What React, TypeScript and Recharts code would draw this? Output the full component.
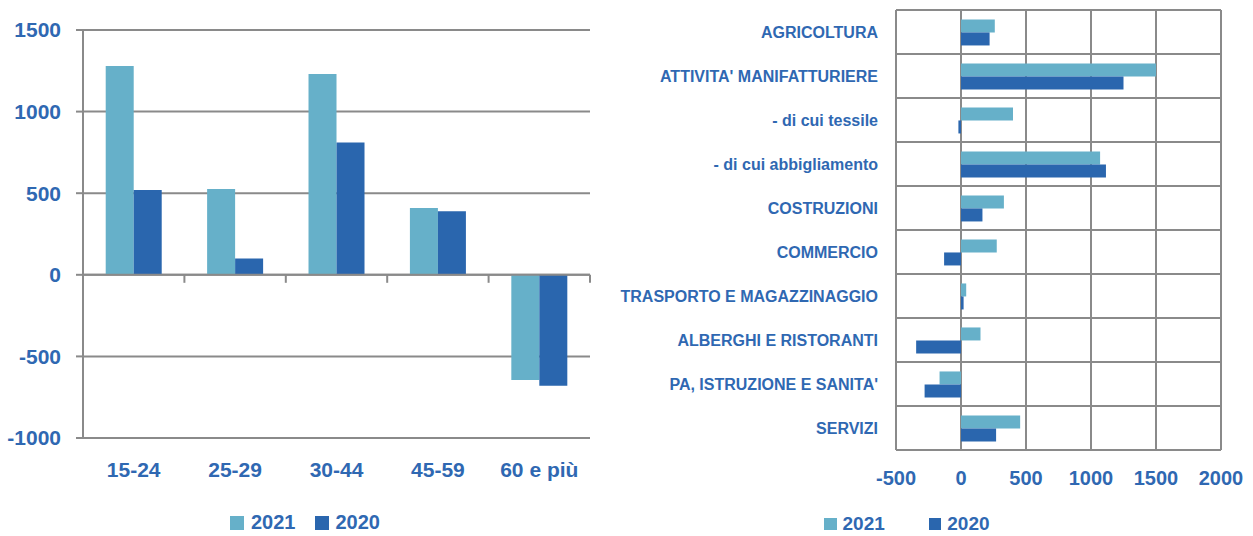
import { Bar, BarChart, CartesianGrid, Legend, ReferenceLine, XAxis, YAxis } from "recharts"

// --- data ---
const ageGroups = ["15-24", "25-29", "30-44", "45-59", "60 e più"]
const age2021 = [1280, 525, 1230, 410, -645]
const age2020 = [520, 100, 810, 390, -680]
const ageTicks = [-1000, -500, 0, 500, 1000, 1500]

const sectors = [
  "AGRICOLTURA",
  "ATTIVITA' MANIFATTURIERE",
  "- di cui tessile",
  "- di cui abbigliamento",
  "COSTRUZIONI",
  "COMMERCIO",
  "TRASPORTO E MAGAZZINAGGIO",
  "ALBERGHI E RISTORANTI",
  "PA, ISTRUZIONE E SANITA'",
  "SERVIZI",
]
const sector2021 = [260, 1500, 400, 1070, 330, 275, 40, 150, -165, 455]
const sector2020 = [220, 1250, -20, 1115, 165, -130, 20, -345, -280, 270]
const sectorTicks = [-500, 0, 500, 1000, 1500, 2000]

const years = ["2021", "2020"]

const ageData = ageGroups.map((group, i) => ({ group, y2021: age2021[i], y2020: age2020[i] }))
const sectorData = sectors.map((name, i) => ({ name, y2021: sector2021[i], y2020: sector2020[i] }))

const LIGHT = "#66b0c9"
const DARK = "#2a66ae"
const BLUE = "#2f68b2"
const GRID = "#8a8a8a"
const FONT = "'Liberation Sans', Arial, sans-serif"

// zero line of the left chart, with Excel-style ticks between categories
function ZeroAxis(props: any) {
  const { x1, y1, x2, y2 } = props
  const step = (x2 - x1) / ageGroups.length
  return (
    <g>
      <line x1={x1} y1={y1} x2={x2} y2={y2} stroke={GRID} strokeWidth={2} />
      {ageGroups.map((_, i) => (
        <line
          key={i}
          x1={x1 + step * (i + 1)}
          x2={x1 + step * (i + 1)}
          y1={y1}
          y2={y1 + 8}
          stroke={GRID}
          strokeWidth={2}
        />
      ))}
    </g>
  )
}

// horizontal grid lines on the category band edges
const bandEdges = ({ offset }: any) => {
  const n = sectors.length
  return Array.from({ length: n + 1 }, (_, i) => offset.top + (offset.height * i) / n)
}

const EmptyTick = () => <g />

function YearLegend({ payload, square, fontSize, gap, spacing }: any) {
  const items = [...(payload || [])].sort((a: any, b: any) => years.indexOf(a.value) - years.indexOf(b.value))
  return (
    <div style={{ display: "flex", alignItems: "center", fontFamily: FONT }}>
      {items.map((entry: any, i: number) => (
        <div key={i} style={{ display: "flex", alignItems: "center", marginRight: spacing }}>
          <span style={{ width: square, height: square, background: entry.color, marginRight: gap }} />
          <span style={{ color: BLUE, fontSize, fontWeight: 700 }}>{entry.value}</span>
        </div>
      ))}
    </div>
  )
}

export default function App() {
  return (
    <div style={{ display: "flex", width: 1253, height: 536, fontFamily: FONT, background: "#fff" }}>
      <style>{`body { margin: 0; }`}</style>

      <BarChart
        width={620}
        height={536}
        data={ageData}
        margin={{ top: 30, right: 30, left: 0, bottom: 0 }}
        barCategoryGap="22.4%"
        barGap={0}
      >
        <CartesianGrid vertical={false} stroke={GRID} strokeWidth={2} />
        <XAxis
          dataKey="group"
          height={98}
          interval={0}
          axisLine={false}
          tickLine={false}
          tickSize={0}
          tickMargin={24}
          tick={{ fill: BLUE, fontSize: 21, fontWeight: 700 }}
        />
        <YAxis
          width={83}
          domain={[-1000, 1500]}
          ticks={ageTicks}
          interval={0}
          axisLine={{ stroke: GRID, strokeWidth: 2 }}
          tickLine={{ stroke: GRID, strokeWidth: 2 }}
          tickSize={7}
          tickMargin={15}
          tick={{ fill: BLUE, fontSize: 21, fontWeight: 700 }}
        />
        <Bar dataKey="y2021" name="2021" fill={LIGHT} isAnimationActive={false} />
        <Bar dataKey="y2020" name="2020" fill={DARK} isAnimationActive={false} />
        <ReferenceLine y={0} shape={ZeroAxis} />
        <Legend
          layout="horizontal"
          verticalAlign="middle"
          align="center"
          wrapperStyle={{ top: 511, left: 230, width: 220 }}
          content={(p: any) => <YearLegend payload={p.payload} square={14} fontSize={20} gap={7} spacing={19} />}
        />
      </BarChart>

      <BarChart
        layout="vertical"
        width={633}
        height={536}
        data={sectorData}
        margin={{ top: 3, right: 32, left: 0, bottom: 0 }}
        barCategoryGap="21.5%"
        barGap={0}
      >
        <CartesianGrid stroke={GRID} strokeWidth={2} horizontalCoordinatesGenerator={bandEdges} />
        <XAxis
          type="number"
          domain={[-500, 2000]}
          ticks={sectorTicks}
          interval={0}
          height={86}
          axisLine={false}
          tickLine={false}
          tickSize={0}
          tickMargin={21}
          tick={{ fill: BLUE, fontSize: 20, fontWeight: 700 }}
        />
        <XAxis
          xAxisId="top"
          orientation="top"
          type="number"
          domain={[-500, 2000]}
          ticks={sectorTicks}
          interval={0}
          height={7}
          axisLine={false}
          tickLine={{ stroke: GRID, strokeWidth: 2 }}
          tickSize={7}
          tick={EmptyTick}
        />
        <YAxis
          type="category"
          dataKey="name"
          width={276}
          interval={0}
          axisLine={false}
          tickLine={false}
          tickSize={0}
          tickMargin={18}
          tick={{ fill: BLUE, fontSize: 16, fontWeight: 700 }}
        />
        <Bar dataKey="y2021" name="2021" fill={LIGHT} isAnimationActive={false} />
        <Bar dataKey="y2020" name="2020" fill={DARK} isAnimationActive={false} />
        <Legend
          layout="horizontal"
          verticalAlign="middle"
          align="center"
          wrapperStyle={{ top: 513, left: 204, width: 220 }}
          content={(p: any) => <YearLegend payload={p.payload} square={12.5} fontSize={19} gap={6} spacing={44} />}
        />
      </BarChart>
    </div>
  )
}
